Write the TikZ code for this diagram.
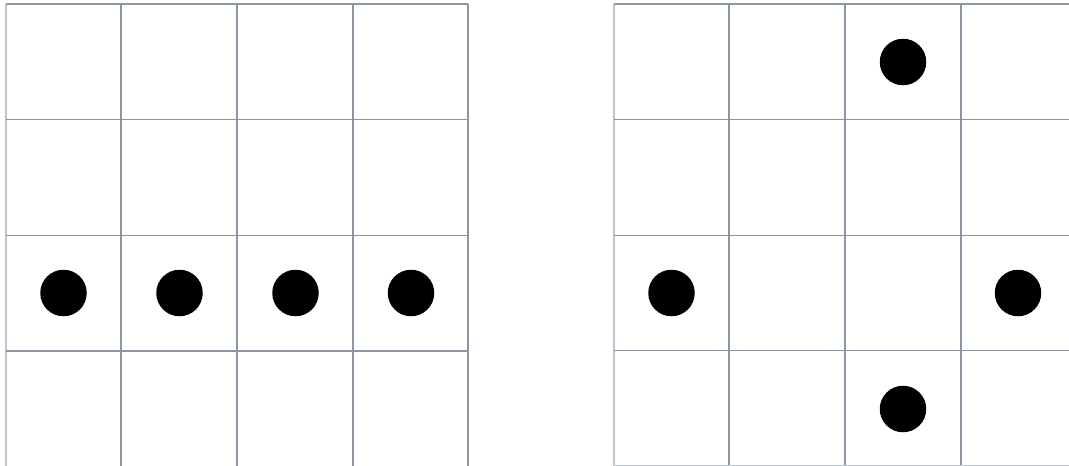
\documentclass[tikz,border=0pt]{standalone}
\usetikzlibrary{calc}
\definecolor{gridc}{HTML}{8A96A4}
\tikzset{
  gridline/.style={draw=gridc, line width=1.4pt},
  edgeline/.style={draw=gridc!55, line width=1.4pt},
  dot/.style={circle, fill=black, inner sep=0pt, minimum size=46.5pt}
}
\begin{document}
\begin{tikzpicture}[x=1pt,y=-1pt]
\useasboundingbox (0,0) rectangle (1069,466);
\fill[white] (0,0) rectangle (1069,466);
% left grid
\draw[edgeline] (6,4) -- (6,466);
\foreach \x in {121,237,353,468} \draw[gridline] (\x,4) -- (\x,466);
\foreach \y in {4,119.5,235.5,351} \draw[gridline] (6,\y) -- (468,\y);
% right grid
\draw[edgeline] (614,4) -- (614,466);
\foreach \x in {729,845,961} \draw[gridline] (\x,4) -- (\x,466);
\foreach \y in {4,119.5,235.5,350.5} \draw[gridline] (614,\y) -- (1069,\y);
\draw[edgeline] (614,465.5) -- (1069,465.5);
% left dots
\node[dot] (l1) at (63.5,293) {};
\node[dot] (l2) at (179.5,293) {};
\node[dot] (l3) at (295.5,293) {};
\node[dot] (l4) at (411,293) {};
% right dots
\node[dot] (r1) at (903,62) {};
\node[dot] (r2) at (671.5,293) {};
\node[dot] (r3) at (1018,293) {};
\node[dot] (r4) at (903,409) {};
\end{tikzpicture}
\end{document}
